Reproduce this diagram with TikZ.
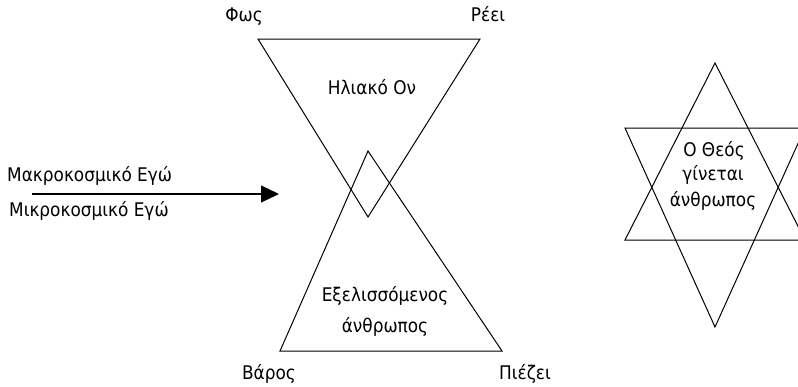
\documentclass[tikz,border=0pt]{standalone}
\usepackage{fontspec}
\setmainfont[FakeStretch=0.9]{DejaVu Sans}
\usetikzlibrary{arrows.meta}
\tikzset{
  lbl/.style={font=\fontsize{18.8bp}{22bp}\selectfont, inner sep=0pt, anchor=base},
  shape line/.style={draw=black, line width=1bp, line join=miter},
}
\begin{document}
\begin{tikzpicture}[x=1bp,y=-1bp]
\useasboundingbox (0,0) rectangle (798,386);
\clip (0,0) rectangle (798,386);
% hourglass: upper (downward) triangle
\coordinate (ul) at (258,39);
\coordinate (ur) at (480,39);
\coordinate (ua) at (368,217);
% lower (upward) triangle
\coordinate (la) at (368,151);
\coordinate (ll) at (280,351);
\coordinate (lr) at (502,351);
\draw[shape line] (ul) -- (ur) -- (ua) -- cycle;
\draw[shape line] (la) -- (ll) -- (lr) -- cycle;
% star
\coordinate (sa) at (715,63);
\coordinate (sbl) at (625,240);
\coordinate (sbr) at (805,240);
\coordinate (stl) at (625,128);
\coordinate (str) at (805,128);
\coordinate (sb) at (715,327);
\draw[shape line] (sa) -- (sbl) -- (sbr) -- cycle;
\draw[shape line] (stl) -- (str) -- (sb) -- cycle;
% labels
\node[lbl] (fos) at (244,21) {Φως};
\node[lbl] (reei) at (488,21) {Ρέει};
\node[lbl] (varos) at (269,379) {Βάρος};
\node[lbl] (piezei) at (525,379) {Πιέζει};
\node[lbl] (iliako) at (372,94) {Ηλιακό Ον};
\node[lbl] (exel1) at (385,301) {Εξελισσόμενος};
\node[lbl] (exel2) at (385,332) {άνθρωπος};
\node[lbl] (theos1) at (714,156) {Ο Θεός};
\node[lbl] (theos2) at (713,180) {γίνεται};
\node[lbl] (theos3) at (713,206) {άνθρωπος};
\node[lbl, anchor=base west] (makro) at (7,181) {Μακροκοσμικό Εγώ};
\node[lbl, anchor=base west] (mikro) at (9,216) {Μικροκοσμικό Εγώ};
% arrow
\coordinate (arrS) at (32,194);
\coordinate (arrE) at (279,194);
\draw[line width=1.2bp, -{Triangle[length=18bp,width=17bp]}] (arrS) -- (arrE);
\end{tikzpicture}
\end{document}
